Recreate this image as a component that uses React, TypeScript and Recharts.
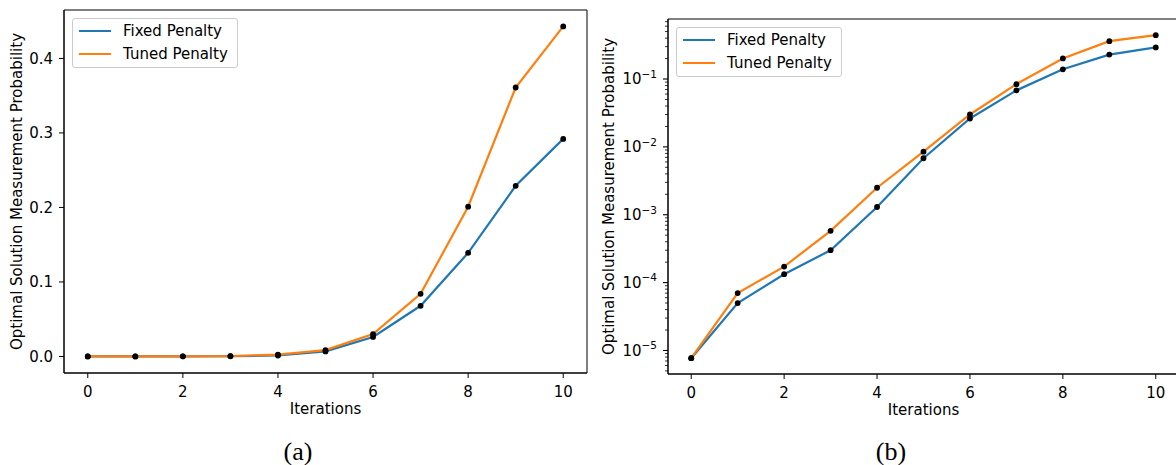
import React from 'react';
import { LineChart, Line, XAxis, YAxis, Legend, Label, ReferenceArea } from 'recharts';

// probability of measuring the optimal solution after each iteration
const iterations = [0, 1, 2, 3, 4, 5, 6, 7, 8, 9, 10];
const fixedPenalty = [7.7e-6, 5.0e-5, 1.33e-4, 3.0e-4, 1.3e-3, 6.8e-3, 0.0262, 0.068, 0.139, 0.229, 0.292];
const tunedPenalty = [7.7e-6, 7.0e-5, 1.72e-4, 5.8e-4, 2.5e-3, 8.5e-3, 0.030, 0.084, 0.201, 0.361, 0.443];

const xTicks = [0, 2, 4, 6, 8, 10];
const linearTicks = [0, 0.1, 0.2, 0.3, 0.4];
const logDecades = [1e-6, 1e-5, 1e-4, 1e-3, 1e-2, 1e-1];
const logMantissas = [1, 2, 3, 4, 5, 6, 7, 8, 9];

const X_MIN = -0.5;
const X_MAX = 10.5;
const LIN_MIN = -0.0222;
const LIN_MAX = 0.465;
const LOG_MIN = 4.5e-6;
const LOG_MAX = 0.766;

const data = iterations.map((iter, i) => ({
  iter,
  fixed: fixedPenalty[i],
  tuned: tunedPenalty[i],
}));

const logTicks = logDecades
  .flatMap((d) => logMantissas.map((m) => Number((m * d).toPrecision(3))))
  .filter((v) => v >= LOG_MIN && v <= LOG_MAX);

const BLUE = '#1f77b4';
const ORANGE = '#ff7f0e';
const FONT = '"DejaVu Sans", sans-serif';
const tickStyle = { fill: '#000', fontSize: 15, fontFamily: FONT };
const axisLine = { stroke: '#000', strokeWidth: 1 };
const dotStyle = { r: 2.9, fill: '#000', stroke: 'none' };

const RIGHT_PLOT_LEFT = 78;

// log axis tick: long line + 10^n label on decades, short line elsewhere
const LogTick = (props: any) => {
  const { y, payload } = props;
  const v = payload.value as number;
  const lg = Math.log10(v);
  const exp = Math.round(lg);
  const major = Math.abs(lg - exp) < 1e-6;
  const ax = RIGHT_PLOT_LEFT;
  return (
    <g>
      <line x1={ax - (major ? 5 : 3)} x2={ax} y1={y} y2={y} stroke="#000" strokeWidth={major ? 1.1 : 0.8} />
      {major && (
        <text x={ax - 11} y={y} dy="0.355em" textAnchor="end" fill="#000" fontSize={15} fontFamily={FONT}>
          <tspan>10</tspan>
          <tspan dy={-6.5} fontSize={10.5}>{'\u2212' + String(-exp)}</tspan>
        </text>
      )}
    </g>
  );
};

const renderLegend = (props: any) => {
  const items = (props.payload || []).filter((p: any) => p.type !== 'none');
  return (
    <div
      style={{
        boxSizing: 'border-box',
        width: 166,
        height: 50,
        border: '1px solid #cccccc',
        borderRadius: 3,
        background: 'rgba(255,255,255,0.8)',
        padding: '1px 0 0 6px',
        fontFamily: FONT,
        fontSize: 15,
        color: '#000',
      }}
    >
      {items.map((p: any) => (
        <div key={p.value} style={{ display: 'flex', alignItems: 'center', height: 22.5 }}>
          <span style={{ display: 'inline-block', width: 32, height: 2.2, background: p.color, marginRight: 12 }} />
          <span style={{ lineHeight: '18px' }}>{p.value}</span>
        </div>
      ))}
    </div>
  );
};

const seriesLines = () => [
  <Line key="f" type="linear" dataKey="fixed" name="Fixed Penalty" stroke={BLUE} strokeWidth={2.2} dot={false} activeDot={false} isAnimationActive={false} />,
  <Line key="t" type="linear" dataKey="tuned" name="Tuned Penalty" stroke={ORANGE} strokeWidth={2.2} dot={false} activeDot={false} isAnimationActive={false} />,
  <Line key="fd" type="linear" dataKey="fixed" stroke="none" dot={dotStyle} activeDot={false} legendType="none" isAnimationActive={false} />,
  <Line key="td" type="linear" dataKey="tuned" stroke="none" dot={dotStyle} activeDot={false} legendType="none" isAnimationActive={false} />,
];

// plot frame (all four spines)
const frame = (yMin: number, yMax: number) => (
  <ReferenceArea x1={X_MIN} x2={X_MAX} y1={yMin} y2={yMax} fill="none" fillOpacity={0} stroke="#000" strokeWidth={1} strokeOpacity={1} ifOverflow="visible" />
);

const xAxisBottom = () => (
  <XAxis
    dataKey="iter"
    type="number"
    domain={[X_MIN, X_MAX]}
    allowDataOverflow
    ticks={xTicks}
    interval={0}
    tick={tickStyle}
    tickSize={5}
    tickMargin={8}
    tickLine={axisLine}
    axisLine={axisLine}
    height={50}
  >
    <Label value="Iterations" position="insideBottom" offset={9.5} fill="#000" fontSize={15} fontFamily={FONT} />
  </XAxis>
);

const captionStyle = (cx: number): React.CSSProperties => ({
  position: 'absolute',
  left: cx - 50,
  top: 438,
  width: 100,
  textAlign: 'center',
  fontFamily: '"Liberation Serif", serif',
  fontSize: 26,
  lineHeight: '28px',
  color: '#000',
});

export default function App() {
  return (
    <div style={{ position: 'absolute', left: 0, top: 0, width: 1176, height: 465, overflow: 'hidden', background: '#fff' }}>
      <div style={{ position: 'absolute', left: 0, top: 0 }}>
        <LineChart width={600} height={465} data={data} margin={{ top: 10, right: 13, bottom: 42, left: 0 }}>
          {xAxisBottom()}
          <YAxis
            type="number"
            domain={[LIN_MIN, LIN_MAX]}
            allowDataOverflow
            ticks={linearTicks}
            interval={0}
            tickFormatter={(v: number) => v.toFixed(1)}
            tick={tickStyle}
            tickSize={5}
            tickMargin={6}
            tickLine={axisLine}
            axisLine={axisLine}
            width={64}
          >
            <Label value="Optimal Solution Measurement Probability" angle={-90} position="insideLeft" offset={17} style={{ textAnchor: 'middle' }} fill="#000" fontSize={15} fontFamily={FONT} />
          </YAxis>
          {frame(LIN_MIN, LIN_MAX)}
          {seriesLines()}
          <Legend
            layout="vertical"
            align="center"
            verticalAlign="middle"
            content={renderLegend}
            wrapperStyle={{ position: 'absolute', left: 72, top: 18, width: 166 }}
          />
        </LineChart>
      </div>

      <div style={{ position: 'absolute', left: 590, top: 0 }}>
        <LineChart width={600} height={465} data={data} margin={{ top: 19, right: 11, bottom: 41, left: 0 }}>
          {xAxisBottom()}
          <YAxis
            type="number"
            scale="log"
            domain={[LOG_MIN, LOG_MAX]}
            allowDataOverflow
            ticks={logTicks}
            interval={0}
            tick={<LogTick />}
            tickLine={false}
            axisLine={axisLine}
            width={RIGHT_PLOT_LEFT}
          >
            <Label value="Optimal Solution Measurement Probability" angle={-90} position="insideLeft" offset={19} style={{ textAnchor: 'middle' }} fill="#000" fontSize={15} fontFamily={FONT} />
          </YAxis>
          {frame(LOG_MIN, LOG_MAX)}
          {seriesLines()}
          <Legend
            layout="vertical"
            align="center"
            verticalAlign="middle"
            content={renderLegend}
            wrapperStyle={{ position: 'absolute', left: 86, top: 27, width: 166 }}
          />
        </LineChart>
      </div>

      <div style={captionStyle(298)}>(a)</div>
      <div style={captionStyle(891)}>(b)</div>
    </div>
  );
}
